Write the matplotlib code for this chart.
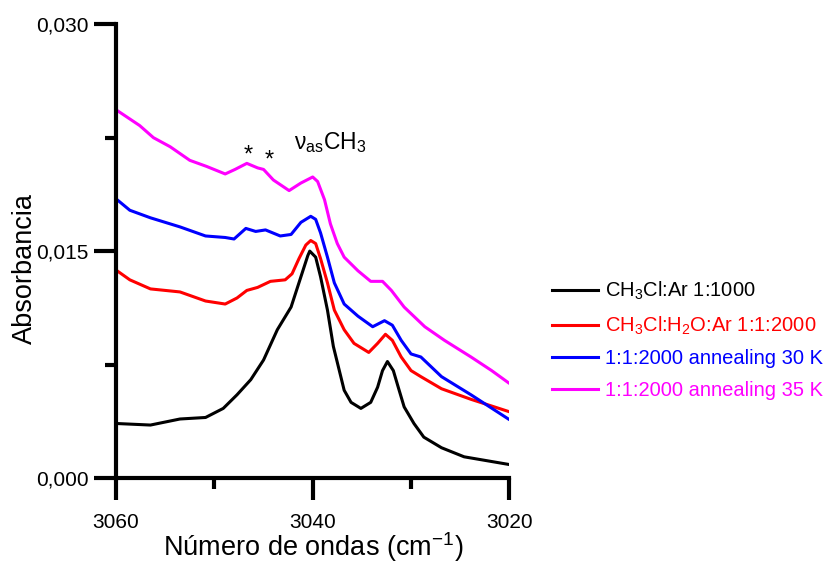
import matplotlib
matplotlib.use("Agg")
import matplotlib.pyplot as plt

plt.rcParams['font.family'] = ['Liberation Sans', 'DejaVu Sans']
plt.rcParams['mathtext.fontset'] = 'custom'
plt.rcParams['mathtext.rm'] = 'Liberation Sans'
plt.rcParams['mathtext.it'] = 'Liberation Sans:italic'

# wavenumbers (cm-1) and absorbances
x_black = [3059.9, 3056.5, 3053.5, 3050.9, 3049.1, 3047.7, 3046.3, 3045.0, 3043.6,
           3042.2, 3041.2, 3040.5, 3040.3, 3039.7, 3039.2, 3038.5, 3037.9, 3036.8,
           3036.1, 3035.1, 3034.1, 3033.4, 3032.9, 3032.4, 3031.8, 3031.3, 3030.7,
           3029.7, 3028.7, 3026.9, 3024.6, 3020.1]
y_black = [0.0036, 0.0035, 0.0039, 0.0040, 0.0046, 0.0055, 0.0065, 0.0078, 0.0098,
           0.0113, 0.0133, 0.0147, 0.0150, 0.0146, 0.0133, 0.0111, 0.0087, 0.0058,
           0.0050, 0.0046, 0.0050, 0.0060, 0.0071, 0.0077, 0.0071, 0.0060, 0.0047,
           0.0036, 0.0027, 0.0020, 0.0014, 0.0009]

x_red = [3059.9, 3058.6, 3056.5, 3053.5, 3050.9, 3048.9, 3047.7, 3046.7, 3045.6,
         3044.3, 3042.8, 3042.1, 3041.4, 3040.7, 3040.2, 3039.7, 3039.2, 3038.5,
         3037.8, 3036.8, 3035.8, 3034.8, 3034.3, 3033.4, 3032.6, 3031.9, 3031.0,
         3030.0, 3029.0, 3026.9, 3023.9, 3020.1]
y_red = [0.0137, 0.0131, 0.0125, 0.0123, 0.0117, 0.0115, 0.0119, 0.0124, 0.0126,
         0.0130, 0.0131, 0.0135, 0.0145, 0.0154, 0.0157, 0.0155, 0.0145, 0.0129,
         0.0111, 0.0098, 0.0089, 0.0085, 0.0083, 0.0089, 0.0095, 0.0091, 0.0080,
         0.0071, 0.0067, 0.0059, 0.0052, 0.0044]

x_blue = [3059.9, 3058.6, 3056.5, 3053.5, 3050.9, 3048.9, 3048.0, 3046.8, 3045.8,
          3044.8, 3043.3, 3042.2, 3041.2, 3040.2, 3039.7, 3039.2, 3038.5, 3037.8,
          3036.8, 3035.4, 3033.9, 3032.7, 3031.9, 3031.0, 3030.0, 3029.0, 3026.9,
          3023.9, 3020.1]
y_blue = [0.0184, 0.0177, 0.0172, 0.0166, 0.0160, 0.0159, 0.0158, 0.0165, 0.0163,
          0.0164, 0.0160, 0.0161, 0.0169, 0.0173, 0.0171, 0.0162, 0.0146, 0.0129,
          0.0115, 0.0107, 0.0100, 0.0104, 0.0101, 0.0091, 0.0082, 0.0080, 0.0067,
          0.0055, 0.0039]

x_mag = [3059.9, 3057.6, 3056.2, 3054.5, 3052.5, 3050.8, 3048.9, 3047.9, 3046.7,
         3045.6, 3045.0, 3044.0, 3042.4, 3041.2, 3040.0, 3039.5, 3038.8, 3038.2,
         3037.5, 3036.8, 3035.4, 3034.1, 3032.9, 3032.0, 3030.7, 3028.6, 3026.6,
         3023.9, 3021.8, 3020.1]
y_mag = [0.0243, 0.0233, 0.0225, 0.0219, 0.0210, 0.0206, 0.0201, 0.0204, 0.0208,
         0.0205, 0.0204, 0.0197, 0.0190, 0.0195, 0.0199, 0.0196, 0.0184, 0.0168,
         0.0155, 0.0146, 0.0137, 0.0130, 0.0130, 0.0124, 0.0113, 0.0100, 0.0091,
         0.0080, 0.0071, 0.0063]

labels = ['CH$_3$Cl:Ar 1:1000', 'CH$_3$Cl:H$_2$O:Ar 1:1:2000',
          '1:1:2000 annealing 30 K', '1:1:2000 annealing 35 K']
colors = ['black', '#ff0000', '#0000ff', '#ff00ff']

fig = plt.figure(figsize=(8.35, 5.63), dpi=100)
ax = fig.add_axes([0.139, 0.151, 0.471, 0.806])

series = [(x_black, y_black), (x_red, y_red), (x_blue, y_blue), (x_mag, y_mag)]
for (xs, ys), c, lab in zip(series, colors, labels):
    ax.plot(xs, ys, '-', color=c, lw=2.2, label=lab)

ax.set_xlim(3060, 3020)
ax.set_ylim(0, 0.030)
ax.set_xticks([3060, 3040, 3020])
ax.set_xticks([3050, 3030], minor=True)
ax.set_yticks([0.0, 0.015, 0.030])
ax.set_yticklabels(['0,000', '0,015', '0,030'])
ax.set_yticks([0.0075, 0.0225], minor=True)

for s in ['top', 'right']:
    ax.spines[s].set_visible(False)
for s in ['left', 'bottom']:
    ax.spines[s].set_linewidth(3)

ax.tick_params(which='major', length=16, width=3, labelsize=15, pad=4)
ax.tick_params(axis='x', which='major', pad=9)
ax.tick_params(which='minor', length=8, width=3)

ax.set_xlabel('Número de ondas (cm$^{-1}$)', fontsize=19.5, labelpad=-1)
fig.text(25 / 835, 1 - 268 / 563, 'Absorbancia', fontsize=19.5, rotation=90,
         ha='center', va='center')

# band annotations
ax.text(3046.6, 0.0213, '*', fontsize=17, ha='center', va='center')
ax.text(3044.4, 0.0210, '*', fontsize=17, ha='center', va='center')
ax.text(3038.2, 0.0222, 'ν$_{\\rm as}$CH$_3$', fontsize=16.5, ha='center', va='center')

fig.legend(loc='upper left', bbox_to_anchor=(0.639, 0.535), frameon=False,
           fontsize=14.5, labelcolor='linecolor', handlelength=2.3,
           handletextpad=0.35, labelspacing=0.62)

fig.savefig('out.png', dpi=100, facecolor='white')
